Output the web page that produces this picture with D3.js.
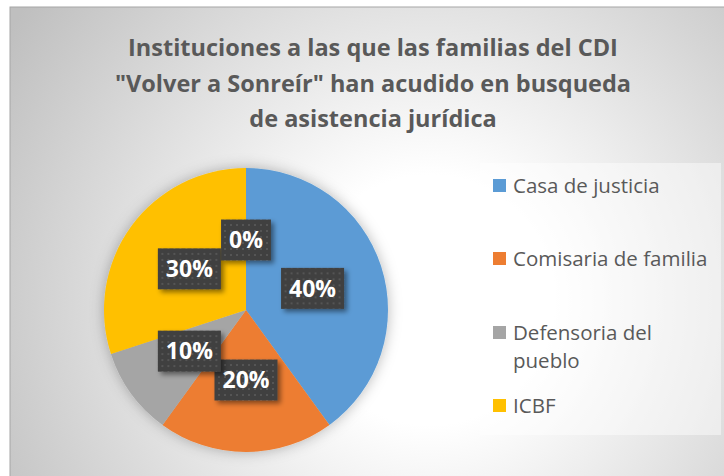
<!DOCTYPE html>
<html>
<head>
<meta charset="utf-8">
<script src="https://cdn.jsdelivr.net/npm/d3@7"></script>
<style>
  html, body { margin: 0; padding: 0; background: #fff; }
  svg { display: block; }
</style>
</head>
<body>
<script>
"use strict";

// chart data
const titleLines = ["Instituciones a las que las familias del CDI",
    "\"Volver a Sonreír\" han acudido en busqueda",
    "de asistencia jurídica"];
const categories = ["Casa de justicia", "Comisaria de familia", "Defensoria del pueblo", "ICBF", ""];
const legendLines = [["Casa de justicia"], ["Comisaria de familia"], ["Defensoria del", "pueblo"], ["ICBF"]];
const values = [40, 20, 10, 30, 0];
const colors = ["#5B9BD5", "#ED7D31", "#A5A5A5", "#FFC000", "#4472C4"];

(function () {

    let width = 724, height = 476,
        cx = 246, cy = 310, radius = 142, labelR = 70;

    let svg = d3.select("body").append("svg")
        .attr("width", width)
        .attr("height", height);

    let defs = svg.append("defs");

    // background gradient
    let grad = defs.append("radialGradient")
        .attr("id", "bg")
        .attr("gradientUnits", "userSpaceOnUse")
        .attr("cx", 430).attr("cy", 300).attr("r", 500);
    grad.append("stop").attr("offset", "0").attr("stop-color", "#ffffff");
    grad.append("stop").attr("offset", "0.25").attr("stop-color", "#ffffff");
    grad.append("stop").attr("offset", "1").attr("stop-color", "#bfbfbf");

    // dotted fill for the data labels
    let pat = defs.append("pattern")
        .attr("id", "dots")
        .attr("patternUnits", "userSpaceOnUse")
        .attr("width", 6).attr("height", 6);
    pat.append("rect").attr("width", 6).attr("height", 6).attr("fill", "#3f3f3f");
    pat.append("rect").attr("x", 2).attr("y", 2).attr("width", 2).attr("height", 2).attr("fill", "#555555");

    defs.append("filter").attr("id", "pieGlow")
        .attr("x", "-20%").attr("y", "-20%").attr("width", "140%").attr("height", "140%")
        .append("feDropShadow")
        .attr("dx", 0).attr("dy", 0).attr("stdDeviation", 7)
        .attr("flood-color", "#000").attr("flood-opacity", 0.28);

    defs.append("filter").attr("id", "boxShadow")
        .attr("x", "-30%").attr("y", "-30%").attr("width", "160%").attr("height", "160%")
        .append("feDropShadow")
        .attr("dx", 3).attr("dy", 3).attr("stdDeviation", 2.5)
        .attr("flood-color", "#000").attr("flood-opacity", 0.45);

    // chart area
    svg.append("rect")
        .attr("x", 10).attr("y", 7)
        .attr("width", width).attr("height", height)
        .attr("fill", "url(#bg)")
        .attr("stroke", "#a6a6a6")
        .attr("stroke-width", 1);

    // title
    svg.append("g").selectAll("text")
        .data(titleLines)
        .enter().append("text")
        .attr("x", 373)
        .attr("y", (d, i) => 56 + i * 35.5)
        .attr("text-anchor", "middle")
        .attr("fill", "#595959")
        .style("font-family", "'Open Sans', Lato, sans-serif")
        .style("font-weight", "bold")
        .style("font-size", "23.5px")
        .text(d => d);

    // pie
    let pie = d3.pie().sort(null).value(d => d);
    let arcs = pie(values);
    let arc = d3.arc().innerRadius(0).outerRadius(radius);

    let g = svg.append("g")
        .attr("transform", "translate(" + cx + "," + cy + ")");

    g.append("g")
        .attr("filter", "url(#pieGlow)")
        .selectAll("path")
        .data(arcs)
        .enter().append("path")
        .attr("d", arc)
        .attr("fill", (d, i) => colors[i]);

    // data labels
    let lab = g.selectAll("g.lab")
        .data(arcs)
        .enter().append("g")
        .attr("class", "lab")
        .attr("transform", function (d) {
            let a = (d.startAngle + d.endAngle) / 2;
            return "translate(" + (Math.sin(a) * labelR) + "," + (-Math.cos(a) * labelR) + ")";
        });

    lab.append("rect").attr("class", "box");
    lab.append("text")
        .attr("text-anchor", "middle")
        .attr("dy", "0.36em")
        .attr("fill", "#ffffff")
        .style("font-family", "'Open Sans', Lato, sans-serif")
        .style("font-weight", "bold")
        .style("font-size", "23px")
        .text(d => d.data + "%");

    lab.each(function () {
        let t = d3.select(this).select("text").node();
        let w = t.getComputedTextLength() + 16, h = 41;
        d3.select(this).select("rect")
            .attr("x", -w / 2).attr("y", -h / 2)
            .attr("width", w).attr("height", h)
            .attr("fill", "url(#dots)")
            .attr("filter", "url(#boxShadow)");
    });

    // legend
    svg.append("rect")
        .attr("x", 480).attr("y", 163)
        .attr("width", 241).attr("height", 272)
        .attr("fill", "#ffffff")
        .attr("fill-opacity", 0.45);

    let legBase = [193, 266, 340, 413];
    let leg = svg.append("g").selectAll("g")
        .data(legendLines)
        .enter().append("g")
        .attr("transform", (d, i) => "translate(493," + legBase[i] + ")");

    leg.append("rect")
        .attr("x", 0).attr("y", -14)
        .attr("width", 13).attr("height", 13)
        .attr("fill", (d, i) => colors[i]);

    leg.append("text")
        .attr("x", 20)
        .attr("fill", "#595959")
        .style("font-family", "'Open Sans', Lato, sans-serif")
        .style("font-size", "20.5px")
        .selectAll("tspan")
        .data(d => d)
        .enter().append("tspan")
        .attr("x", 20)
        .attr("dy", (d, i) => i === 0 ? 0 : 28)
        .text(d => d);

})();
</script>
</body>
</html>
